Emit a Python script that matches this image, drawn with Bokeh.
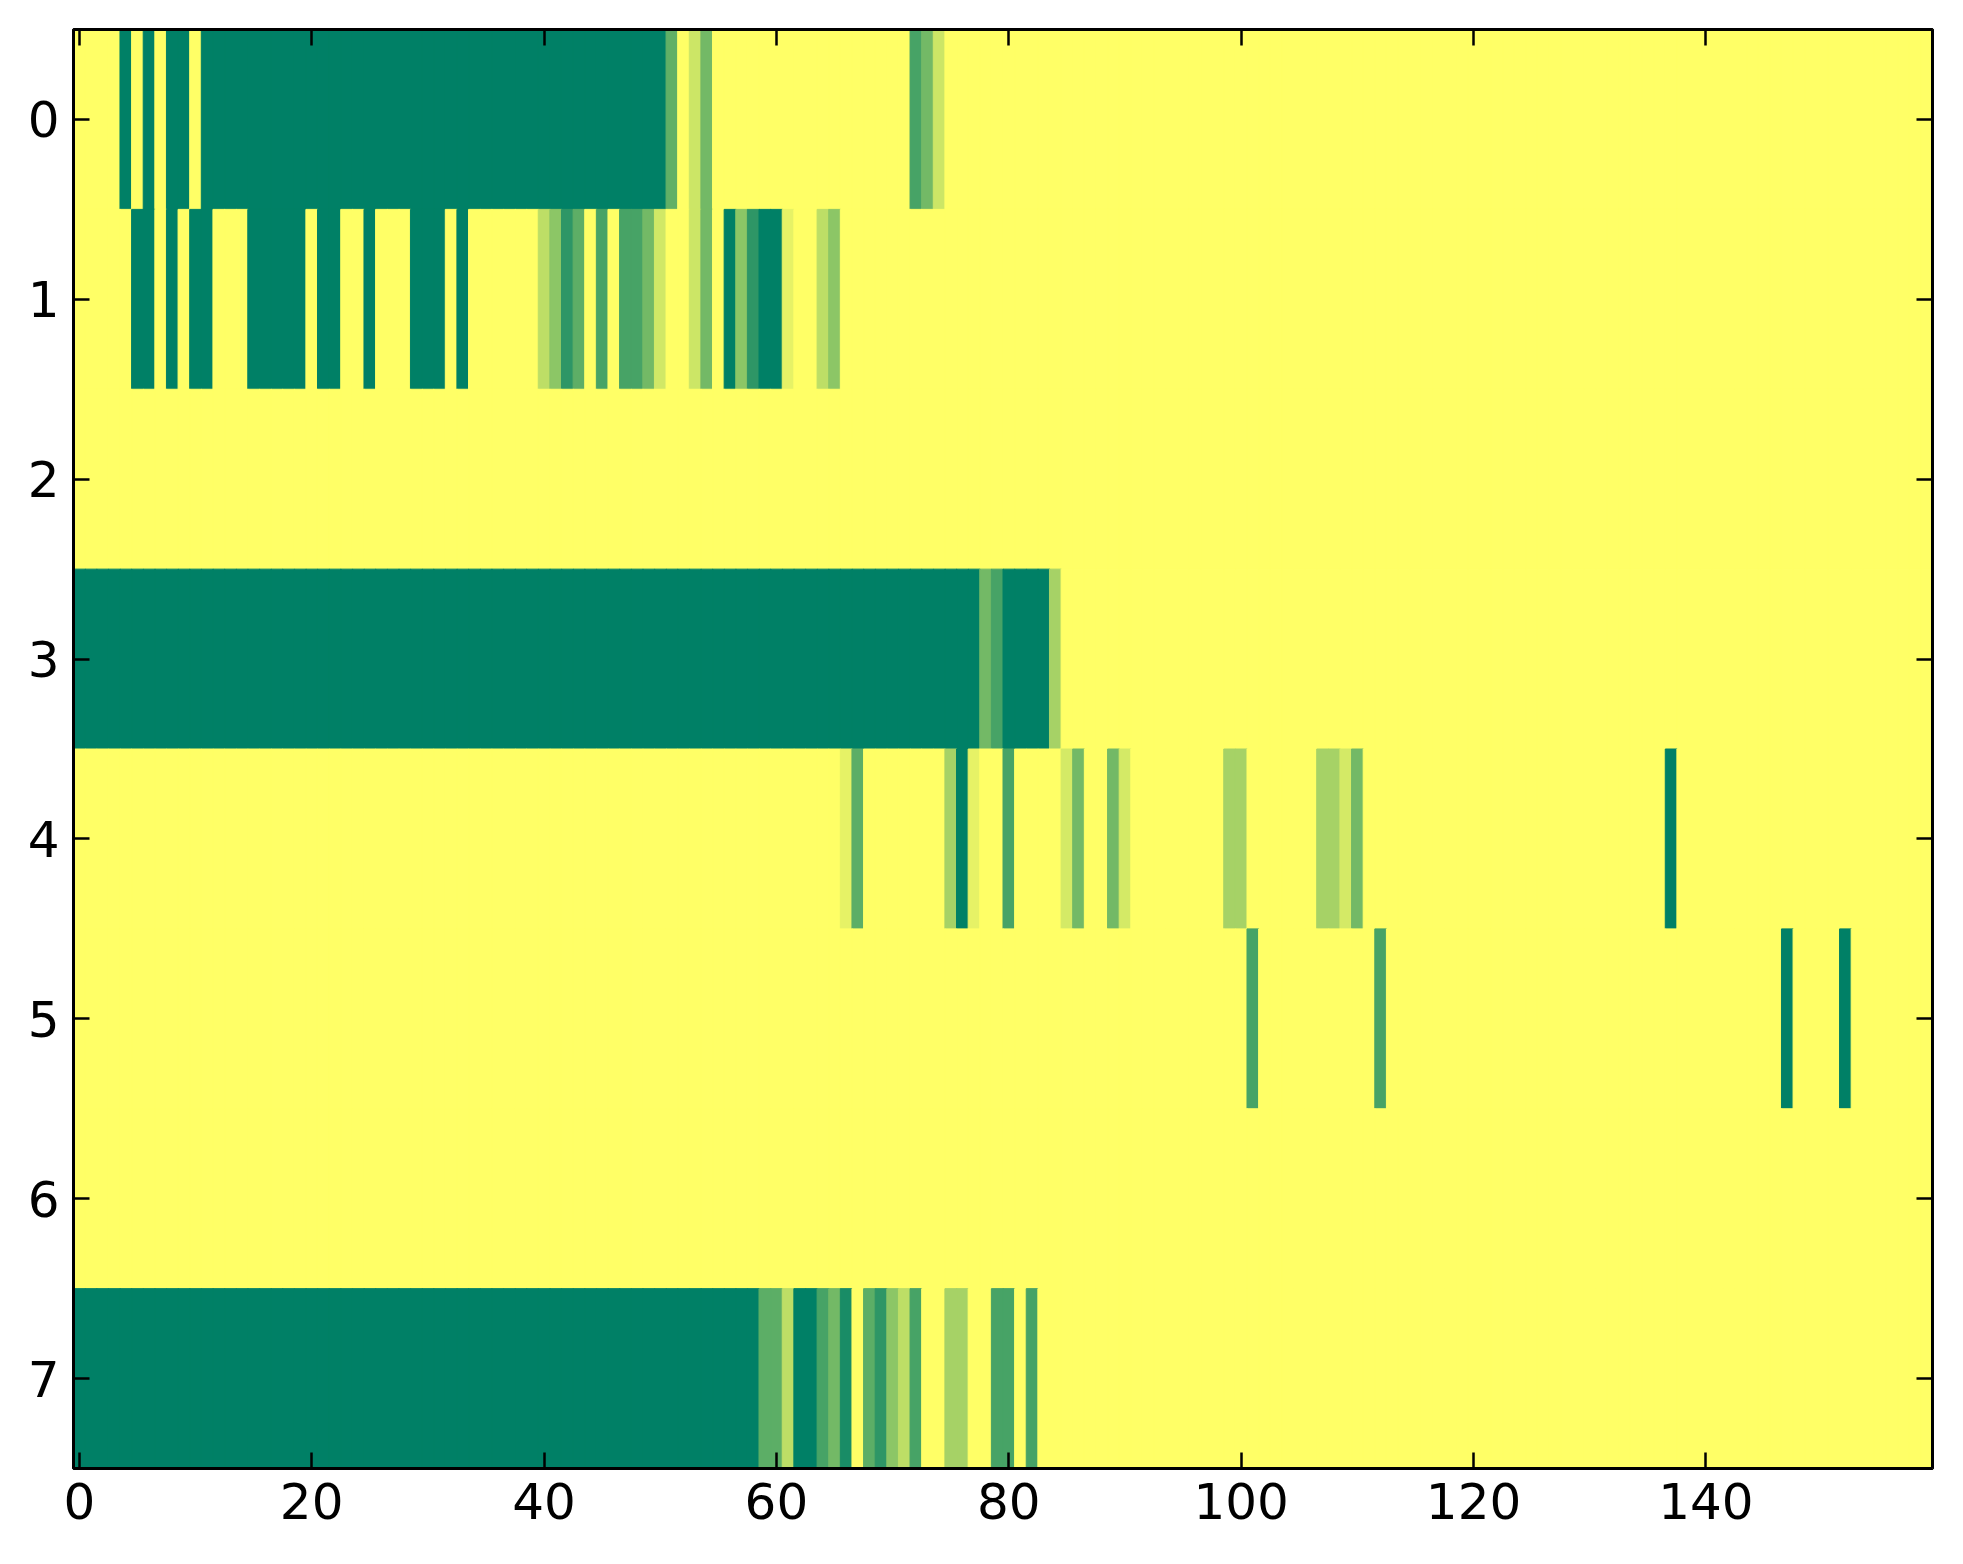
from bokeh.plotting import figure
from bokeh.models import Range1d, LinearAxis, FixedTicker, LinearColorMapper, ColumnDataSource
from bokeh.transform import transform
from bokeh.embed import file_html
from bokeh.resources import INLINE

# ---- data: one list of 160 cell values per row (0 = yellow, 1 = dark green) ----
row0 = [0, 0, 0, 0, 1, 0, 1, 0, 1, 1, 0, 1, 1, 1, 1, 1, 1, 1, 1, 1,
        1, 1, 1, 1, 1, 1, 1, 1, 1, 1, 1, 1, 1, 1, 1, 1, 1, 1, 1, 1,
        1, 1, 1, 1, 1, 1, 1, 1, 1, 1, 1, .62, 0, .2, .55, 0, 0, 0, 0, 0,
        0, 0, 0, 0, 0, 0, 0, 0, 0, 0, 0, 0, .72, .55, .2, 0, 0, 0, 0, 0,
        0, 0, 0, 0, 0, 0, 0, 0, 0, 0, 0, 0, 0, 0, 0, 0, 0, 0, 0, 0,
        0, 0, 0, 0, 0, 0, 0, 0, 0, 0, 0, 0, 0, 0, 0, 0, 0, 0, 0, 0,
        0, 0, 0, 0, 0, 0, 0, 0, 0, 0, 0, 0, 0, 0, 0, 0, 0, 0, 0, 0,
        0, 0, 0, 0, 0, 0, 0, 0, 0, 0, 0, 0, 0, 0, 0, 0, 0, 0, 0, 0]
row1 = [0, 0, 0, 0, 0, 1, 1, 0, 1, 0, 1, 1, 0, 0, 0, 1, 1, 1, 1, 1,
        0, 1, 1, 0, 0, 1, 0, 0, 0, 1, 1, 1, 0, 1, 0, 0, 0, 0, 0, 0,
        .26, .45, .82, .63, 0, .72, 0, .72, .72, .55, .18, 0, 0, .2, .55, 0, 1, .45, .82, 1,
        1, .1, 0, 0, .26, .45, 0, 0, 0, 0, 0, 0, 0, 0, 0, 0, 0, 0, 0, 0,
        0, 0, 0, 0, 0, 0, 0, 0, 0, 0, 0, 0, 0, 0, 0, 0, 0, 0, 0, 0,
        0, 0, 0, 0, 0, 0, 0, 0, 0, 0, 0, 0, 0, 0, 0, 0, 0, 0, 0, 0,
        0, 0, 0, 0, 0, 0, 0, 0, 0, 0, 0, 0, 0, 0, 0, 0, 0, 0, 0, 0,
        0, 0, 0, 0, 0, 0, 0, 0, 0, 0, 0, 0, 0, 0, 0, 0, 0, 0, 0, 0]
row2 = [0, 0, 0, 0, 0, 0, 0, 0, 0, 0, 0, 0, 0, 0, 0, 0, 0, 0, 0, 0,
        0, 0, 0, 0, 0, 0, 0, 0, 0, 0, 0, 0, 0, 0, 0, 0, 0, 0, 0, 0,
        0, 0, 0, 0, 0, 0, 0, 0, 0, 0, 0, 0, 0, 0, 0, 0, 0, 0, 0, 0,
        0, 0, 0, 0, 0, 0, 0, 0, 0, 0, 0, 0, 0, 0, 0, 0, 0, 0, 0, 0,
        0, 0, 0, 0, 0, 0, 0, 0, 0, 0, 0, 0, 0, 0, 0, 0, 0, 0, 0, 0,
        0, 0, 0, 0, 0, 0, 0, 0, 0, 0, 0, 0, 0, 0, 0, 0, 0, 0, 0, 0,
        0, 0, 0, 0, 0, 0, 0, 0, 0, 0, 0, 0, 0, 0, 0, 0, 0, 0, 0, 0,
        0, 0, 0, 0, 0, 0, 0, 0, 0, 0, 0, 0, 0, 0, 0, 0, 0, 0, 0, 0]
row3 = [1, 1, 1, 1, 1, 1, 1, 1, 1, 1, 1, 1, 1, 1, 1, 1, 1, 1, 1, 1,
        1, 1, 1, 1, 1, 1, 1, 1, 1, 1, 1, 1, 1, 1, 1, 1, 1, 1, 1, 1,
        1, 1, 1, 1, 1, 1, 1, 1, 1, 1, 1, 1, 1, 1, 1, 1, 1, 1, 1, 1,
        1, 1, 1, 1, 1, 1, 1, 1, 1, 1, 1, 1, 1, 1, 1, 1, 1, 1, .55, .72,
        1, 1, 1, 1, .35, 0, 0, 0, 0, 0, 0, 0, 0, 0, 0, 0, 0, 0, 0, 0,
        0, 0, 0, 0, 0, 0, 0, 0, 0, 0, 0, 0, 0, 0, 0, 0, 0, 0, 0, 0,
        0, 0, 0, 0, 0, 0, 0, 0, 0, 0, 0, 0, 0, 0, 0, 0, 0, 0, 0, 0,
        0, 0, 0, 0, 0, 0, 0, 0, 0, 0, 0, 0, 0, 0, 0, 0, 0, 0, 0, 0]
row4 = [0, 0, 0, 0, 0, 0, 0, 0, 0, 0, 0, 0, 0, 0, 0, 0, 0, 0, 0, 0,
        0, 0, 0, 0, 0, 0, 0, 0, 0, 0, 0, 0, 0, 0, 0, 0, 0, 0, 0, 0,
        0, 0, 0, 0, 0, 0, 0, 0, 0, 0, 0, 0, 0, 0, 0, 0, 0, 0, 0, 0,
        0, 0, 0, 0, 0, 0, .1, .64, 0, 0, 0, 0, 0, 0, 0, .35, 1, .1, 0, 0,
        .72, 0, 0, 0, 0, .17, .55, 0, 0, .55, .17, 0, 0, 0, 0, 0, 0, 0, 0, .35,
        .35, 0, 0, 0, 0, 0, 0, .35, .35, .17, .55, 0, 0, 0, 0, 0, 0, 0, 0, 0,
        0, 0, 0, 0, 0, 0, 0, 0, 0, 0, 0, 0, 0, 0, 0, 0, 0, 1, 0, 0,
        0, 0, 0, 0, 0, 0, 0, 0, 0, 0, 0, 0, 0, 0, 0, 0, 0, 0, 0, 0]
row5 = [0, 0, 0, 0, 0, 0, 0, 0, 0, 0, 0, 0, 0, 0, 0, 0, 0, 0, 0, 0,
        0, 0, 0, 0, 0, 0, 0, 0, 0, 0, 0, 0, 0, 0, 0, 0, 0, 0, 0, 0,
        0, 0, 0, 0, 0, 0, 0, 0, 0, 0, 0, 0, 0, 0, 0, 0, 0, 0, 0, 0,
        0, 0, 0, 0, 0, 0, 0, 0, 0, 0, 0, 0, 0, 0, 0, 0, 0, 0, 0, 0,
        0, 0, 0, 0, 0, 0, 0, 0, 0, 0, 0, 0, 0, 0, 0, 0, 0, 0, 0, 0,
        0, .72, 0, 0, 0, 0, 0, 0, 0, 0, 0, 0, .72, 0, 0, 0, 0, 0, 0, 0,
        0, 0, 0, 0, 0, 0, 0, 0, 0, 0, 0, 0, 0, 0, 0, 0, 0, 0, 0, 0,
        0, 0, 0, 0, 0, 0, 0, 1, 0, 0, 0, 0, 1, 0, 0, 0, 0, 0, 0, 0]
row6 = [0, 0, 0, 0, 0, 0, 0, 0, 0, 0, 0, 0, 0, 0, 0, 0, 0, 0, 0, 0,
        0, 0, 0, 0, 0, 0, 0, 0, 0, 0, 0, 0, 0, 0, 0, 0, 0, 0, 0, 0,
        0, 0, 0, 0, 0, 0, 0, 0, 0, 0, 0, 0, 0, 0, 0, 0, 0, 0, 0, 0,
        0, 0, 0, 0, 0, 0, 0, 0, 0, 0, 0, 0, 0, 0, 0, 0, 0, 0, 0, 0,
        0, 0, 0, 0, 0, 0, 0, 0, 0, 0, 0, 0, 0, 0, 0, 0, 0, 0, 0, 0,
        0, 0, 0, 0, 0, 0, 0, 0, 0, 0, 0, 0, 0, 0, 0, 0, 0, 0, 0, 0,
        0, 0, 0, 0, 0, 0, 0, 0, 0, 0, 0, 0, 0, 0, 0, 0, 0, 0, 0, 0,
        0, 0, 0, 0, 0, 0, 0, 0, 0, 0, 0, 0, 0, 0, 0, 0, 0, 0, 0, 0]
row7 = [1, 1, 1, 1, 1, 1, 1, 1, 1, 1, 1, 1, 1, 1, 1, 1, 1, 1, 1, 1,
        1, 1, 1, 1, 1, 1, 1, 1, 1, 1, 1, 1, 1, 1, 1, 1, 1, 1, 1, 1,
        1, 1, 1, 1, 1, 1, 1, 1, 1, 1, 1, 1, 1, 1, 1, 1, 1, 1, 1, .64,
        .64, .26, 1, 1, .72, .55, .9, 0, .64, .82, .45, .26, .72, 0, 0, .35, .35, 0, 0, .72,
        .72, 0, .72, 0, 0, 0, 0, 0, 0, 0, 0, 0, 0, 0, 0, 0, 0, 0, 0, 0,
        0, 0, 0, 0, 0, 0, 0, 0, 0, 0, 0, 0, 0, 0, 0, 0, 0, 0, 0, 0,
        0, 0, 0, 0, 0, 0, 0, 0, 0, 0, 0, 0, 0, 0, 0, 0, 0, 0, 0, 0,
        0, 0, 0, 0, 0, 0, 0, 0, 0, 0, 0, 0, 0, 0, 0, 0, 0, 0, 0, 0]

rows = [row0, row1, row2, row3, row4, row5, row6, row7]
x_ticks = [0, 20, 40, 60, 80, 100, 120, 140]
y_ticks = [0, 1, 2, 3, 4, 5, 6, 7]

# ---- reversed "summer" colormap: 0 -> yellow, 1 -> dark green ----
palette = []
for i in range(256):
    t = 1 - i / 255
    palette.append("#%02x%02x%02x" % (round(t * 255), round((0.5 + t / 2) * 255), round(0.4 * 255)))
mapper = LinearColorMapper(palette=palette, low=0, high=1)

xs, ys, vs = [], [], []
for r, row in enumerate(rows):
    for c, v in enumerate(row):
        xs.append(c)
        ys.append(r)
        vs.append(v)
src = ColumnDataSource(dict(x=xs, y=ys, v=vs))

p = figure(frame_width=1859, frame_height=1439,
           x_range=Range1d(-0.5, 159.5), y_range=Range1d(7.5, -0.5),
           output_backend="svg", toolbar_location=None,
           x_axis_location=None, y_axis_location=None,
           min_border_left=73, min_border_right=23, min_border_top=29, min_border_bottom=80,
           background_fill_color="white", border_fill_color="white")
p.grid.visible = False

p.rect(x="x", y="y", width=1, height=1, source=src, dilate=True,
       fill_color=transform("v", mapper), line_color=transform("v", mapper), line_width=1)

font = "DejaVu Sans"

def style(ax, ticks, labels=True):
    ax.ticker = FixedTicker(ticks=ticks)
    ax.axis_line_color = "black"
    ax.axis_line_width = 3
    ax.major_tick_in = 16
    ax.major_tick_out = 0
    ax.major_tick_line_width = 2.5
    ax.major_tick_line_color = "black"
    ax.minor_tick_line_color = None
    ax.major_label_text_font = font
    ax.major_label_text_color = "black"
    ax.major_label_text_font_size = "50px"
    if labels:
        ax.major_label_standoff = 14
    else:
        ax.major_label_overrides = {t: "" for t in ticks}
        ax.major_label_standoff = 0

bx = LinearAxis(); style(bx, x_ticks); p.add_layout(bx, "below")
tx = LinearAxis(); style(tx, x_ticks, False); p.add_layout(tx, "above")
ly = LinearAxis(); style(ly, y_ticks); p.add_layout(ly, "left")
ry = LinearAxis(); style(ry, y_ticks, False); p.add_layout(ry, "right")

p.outline_line_color = "black"
p.outline_line_width = 3

open("out.html", "w").write(file_html(p, INLINE))
